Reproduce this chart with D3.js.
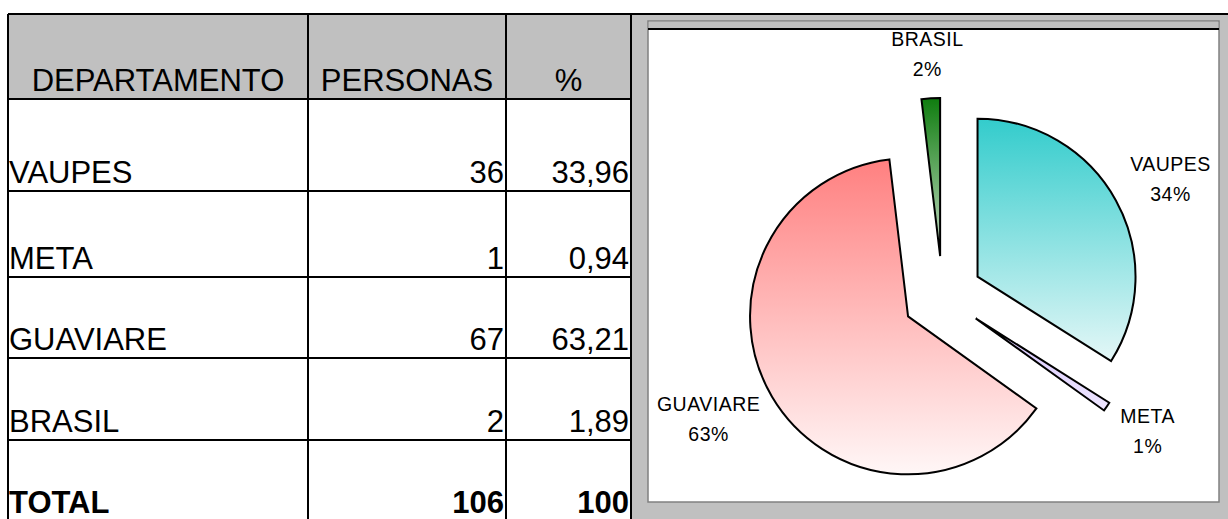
<!DOCTYPE html>
<html>
<head>
<meta charset="utf-8">
<script src="https://cdn.jsdelivr.net/npm/d3@7"></script>
<style>
  html, body { margin: 0; padding: 0; background: #fff; }
  svg { display: block; font-family: "Liberation Sans", Arial, sans-serif; }
</style>
</head>
<body>
<div id="chart"></div>
<script>
// Table + exploded pie: personas por departamento

const headers = ["DEPARTAMENTO", "PERSONAS", "%"];
const departamentos = ["VAUPES", "META", "GUAVIARE", "BRASIL"];
const personas = [36, 1, 67, 2];
const porcentajes = ["33,96", "0,94", "63,21", "1,89"];
const totalRow = ["TOTAL", "106", "100"];

const sliceColors = {
  VAUPES:   ["#33cccc", "#e4f7f7"],
  META:     ["#d6c4ff", "#eee6ff"],
  GUAVIARE: ["#ff8080", "#fff7f7"],
  BRASIL:   ["#0f7d0f", "#c9ddc9"]
};

const width = 1228, height = 519;

const svg = d3.select("#chart").append("svg")
  .attr("width", width)
  .attr("height", height);

// ── Table ───────────────────────────────────────────────────────────────────
const colEdges = [8, 308, 506, 631];
const rowEdges = [14, 99, 191, 277, 358, 440, 521];
const tableFont = 31;

svg.append("rect")
  .attr("x", colEdges[0]).attr("y", rowEdges[0])
  .attr("width", colEdges[3] - colEdges[0])
  .attr("height", rowEdges[1] - rowEdges[0])
  .attr("fill", "#c0c0c0");

// chart frame (grey) on the right
svg.append("rect")
  .attr("x", 631).attr("y", 14)
  .attr("width", width - 631).attr("height", height - 14)
  .attr("fill", "#c0c0c0");

const table = svg.append("g");

headers.forEach((h, i) => {
  table.append("text")
    .attr("x", (colEdges[i] + colEdges[i + 1]) / 2)
    .attr("y", rowEdges[1] - 8)
    .attr("text-anchor", "middle")
    .style("font-size", tableFont + "px")
    .text(h);
});

const rows = departamentos.map((d, i) => [d, String(personas[i]), porcentajes[i]]);
rows.push(totalRow);

rows.forEach((r, ri) => {
  const base = rowEdges[ri + 2] - 8;
  const bold = ri === rows.length - 1;
  r.forEach((v, ci) => {
    table.append("text")
      .attr("x", ci === 0 ? colEdges[0] + 1 : colEdges[ci + 1] - 2)
      .attr("y", base)
      .attr("text-anchor", ci === 0 ? "start" : "end")
      .style("font-size", tableFont + "px")
      .style("font-weight", bold ? "700" : null)
      .text(v);
  });
});

// grid lines
rowEdges.slice(1, -1).forEach(y => {
  table.append("line")
    .attr("x1", colEdges[0]).attr("x2", colEdges[3])
    .attr("y1", y).attr("y2", y)
    .attr("stroke", "#000").attr("stroke-width", 2);
});
colEdges.forEach(x => {
  table.append("line")
    .attr("x1", x).attr("x2", x)
    .attr("y1", rowEdges[0]).attr("y2", height)
    .attr("stroke", "#000").attr("stroke-width", 2);
});
table.append("line")
  .attr("x1", colEdges[0]).attr("x2", width)
  .attr("y1", rowEdges[0]).attr("y2", rowEdges[0])
  .attr("stroke", "#000").attr("stroke-width", 2);

// ── Chart area ──────────────────────────────────────────────────────────────
const box = { x: 648, y: 21, w: 1219 - 648, h: 502 - 21 };

svg.append("rect")
  .attr("x", box.x).attr("y", box.y)
  .attr("width", box.w).attr("height", box.h)
  .attr("fill", "#fff")
  .attr("stroke", "#808080").attr("stroke-width", 1.5);

svg.append("rect")
  .attr("x", box.x + 1).attr("y", box.y + 1)
  .attr("width", box.w - 2).attr("height", 7)
  .attr("fill", "#c0c0c0");

svg.append("line")
  .attr("x1", box.x).attr("x2", box.x + box.w)
  .attr("y1", 29).attr("y2", 29)
  .attr("stroke", "#000").attr("stroke-width", 2);

// ── Pie ─────────────────────────────────────────────────────────────────────
const cx = 942.5, cy = 296, radius = 158, explode = 40, labelR = 220;

const pie = d3.pie().sort(null).value(d => d.value);
const arc = d3.arc().innerRadius(0).outerRadius(radius);

const total = d3.sum(personas);
const pieData = pie(departamentos.map((d, i) => ({ name: d, value: personas[i] })));

const defs = svg.append("defs");
departamentos.forEach((d, i) => {
  const g = defs.append("linearGradient")
    .attr("id", "grad-" + i)
    .attr("x1", 0).attr("y1", 0).attr("x2", 0).attr("y2", 1);
  g.append("stop").attr("offset", "0%").attr("stop-color", sliceColors[d][0]);
  g.append("stop").attr("offset", "100%").attr("stop-color", sliceColors[d][1]);
});

const pieG = svg.append("g").attr("transform", `translate(${cx},${cy})`);

const mid = d => (d.startAngle + d.endAngle) / 2;

pieG.selectAll("path.slice")
  .data(pieData)
  .join("path")
  .attr("class", "slice")
  .attr("transform", d => {
    const a = mid(d);
    return `translate(${explode * Math.sin(a)},${-explode * Math.cos(a)})`;
  })
  .attr("d", arc)
  .attr("fill", (d, i) => `url(#grad-${i})`)
  .attr("stroke", "#000")
  .attr("stroke-width", 2)
  .attr("stroke-linejoin", "miter");

// labels: name + rounded percentage
const labels = pieG.selectAll("text.lbl")
  .data(pieData)
  .join("text")
  .attr("class", "lbl")
  .attr("text-anchor", "middle")
  .style("font-size", "19.5px")
  .style("letter-spacing", "0.5px")
  .attr("fill", "#000");

labels.append("tspan").attr("x", 0).attr("dy", 0).text(d => d.data.name);
labels.append("tspan").attr("x", 0).attr("dy", 30)
  .text(d => Math.round(d.data.value / total * 100) + "%");

labels.each(function(d) {
  const a = mid(d);
  const dx = Math.sin(a), dy = -Math.cos(a);
  const bb = this.getBBox();
  const w = bb.width, h = 44;
  const bx = labelR * dx + (w / 2) * dx;
  const by = labelR * dy + (h / 2) * dy;
  d3.select(this).attr("transform", `translate(${bx},${by - 8})`);
});
</script>
</body>
</html>
